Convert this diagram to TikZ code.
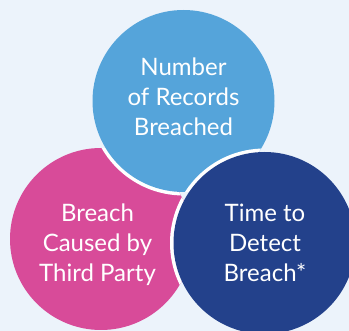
\documentclass[tikz,border=0pt]{standalone}
\usepackage{fontspec}
\setmainfont{Lato}
\definecolor{bgc}{HTML}{ECF3FB}
\definecolor{bluec}{HTML}{55A4DA}
\definecolor{pinkc}{HTML}{D84B99}
\definecolor{navyc}{HTML}{23418B}
\tikzset{
  circ/.style={circle, minimum size=182pt, inner sep=0pt},
  gapc/.style={fill=white},
  lbl/.style={text=white, align=center, font=\fontsize{24}{30}\selectfont, inner sep=0pt}
}
\begin{document}
\begin{tikzpicture}[x=1pt,y=-1pt]
\useasboundingbox (0,0) rectangle (349,331);
\clip (0,0) rectangle (349,331);
\fill[bgc] (0,0) rectangle (349,331);
\coordinate (cp) at (101,239);
\coordinate (cb) at (183.5,101);
\coordinate (cn) at (264.5,243);
% pink
\node[circ, fill=pinkc] (pink) at (cp) {};
% gap round blue, only over pink
\begin{scope}
  \clip (cp) circle (91);
  \fill[gapc] (cb) circle (94.5);
\end{scope}
\node[circ, fill=bluec] (blue) at (cb) {};
% gap round navy, over pink and blue
\begin{scope}
  \clip (cp) circle (91);
  \fill[gapc] (cn) circle (94.5);
\end{scope}
\begin{scope}
  \clip (cb) circle (91);
  \fill[gapc] (cn) circle (94.5);
\end{scope}
\node[circ, fill=navyc] (navy) at (cn) {};
\node[lbl] (tblue) at (183.5,96.7) {Number\\of Records\\Breached};
\node[lbl] (tpink) at (97.5,245.1) {Breach\\Caused by\\Third Party};
\node[lbl] (tnavy) at (265,242.7) {Time to\\Detect\\Breach*};
\end{tikzpicture}
\end{document}
